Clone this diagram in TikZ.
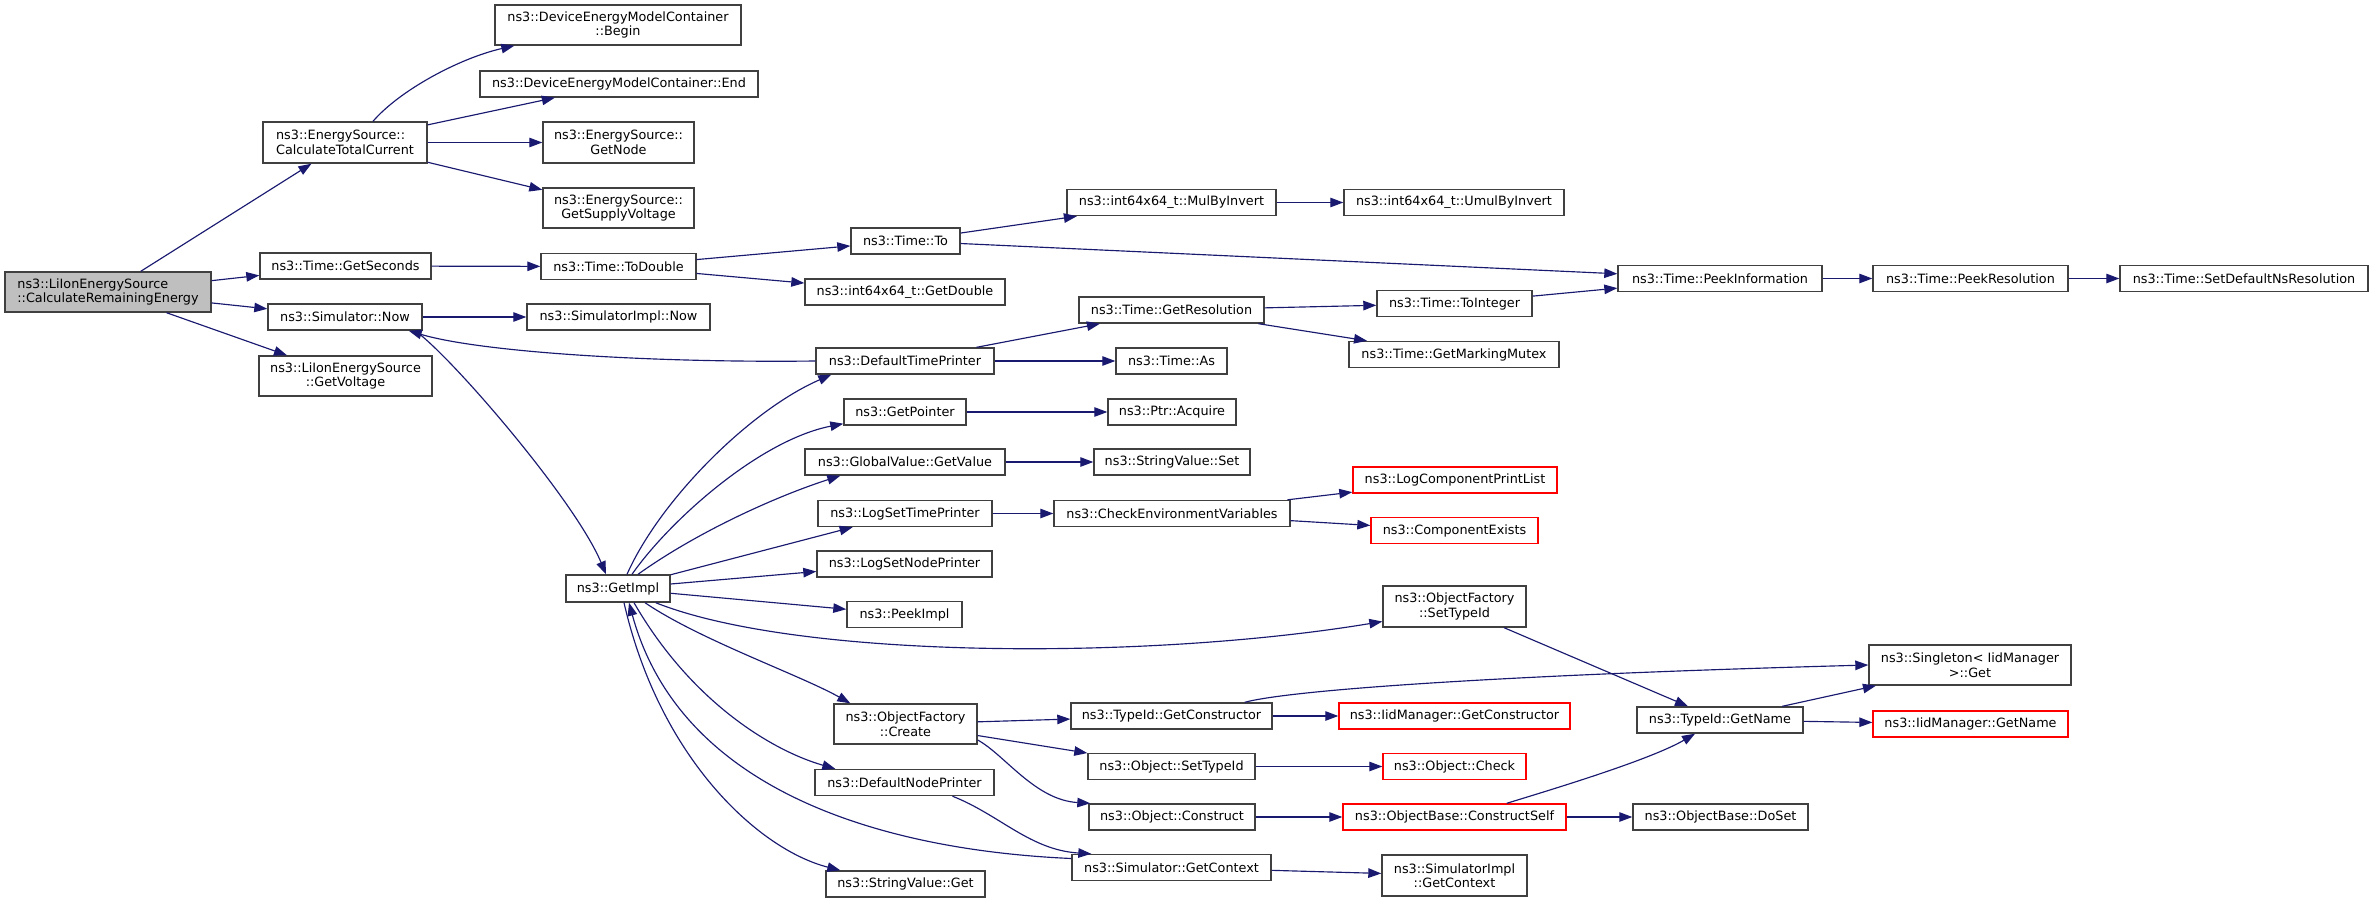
\documentclass[tikz,border=0pt]{standalone}
\usepackage{fontspec}
\setmainfont{DejaVu Sans}
\usetikzlibrary{arrows.meta,calc}
\definecolor{edgeblue}{HTML}{191970}
\definecolor{nodegrey}{HTML}{404040}
\definecolor{rootfill}{HTML}{BFBFBF}
\newcommand\dvfont{\fontsize{12.8bp}{14.5bp}\selectfont}
\tikzset{
  box/.style={draw=nodegrey, line width=1.4bp, fill=white, inner sep=0pt, font=\dvfont, align=center, text=black},
  redbox/.style={box, draw=red},
  bw/.style={minimum width=#1bp},
  bh/.style={minimum height=#1bp},
  e/.style={draw=edgeblue, line width=1.15bp, -{Triangle[length=13bp,width=9.5bp]}},
}
\begin{document}
\begin{tikzpicture}[x=1bp,y=-1bp]
\useasboundingbox (0,0) rectangle (2373,903);
% column 1
\node[box, fill=rootfill, align=left, bw=206, bh=40] (root) at (108,292) {ns3::LiIonEnergySource\\::CalculateRemainingEnergy};
% column 2
\node[box, align=left, bw=164, bh=41] (ctc) at (345,142.5) {ns3::EnergySource::\\CalculateTotalCurrent};
\node[box, bw=171, bh=26] (getsec) at (345.5,266) {ns3::Time::GetSeconds};
\node[box, bw=154, bh=26] (simnow) at (345,317) {ns3::Simulator::Now};
\node[box, bw=173, bh=40] (getvolt) at (345.5,376) {ns3::LiIonEnergySource\\::GetVoltage};
% column 3
\node[box, bw=246, bh=40] (begin) at (618,25) {ns3::DeviceEnergyModelContainer\\::Begin};
\node[box, bw=278, bh=26] (end) at (619,84) {ns3::DeviceEnergyModelContainer::End};
\node[box, bw=151, bh=41] (getnode) at (618.5,142.5) {ns3::EnergySource::\\GetNode};
\node[box, bw=151, bh=40] (supply) at (618.5,208) {ns3::EnergySource::\\GetSupplyVoltage};
\node[box, bw=155, bh=26] (todouble) at (618.5,266.5) {ns3::Time::ToDouble};
\node[box, bw=183, bh=26] (implnow) at (618.5,317) {ns3::SimulatorImpl::Now};
\node[box, bw=104, bh=27] (getimpl) at (618,588.5) {ns3::GetImpl};
% column 4
\node[box, bw=109, bh=26] (timeto) at (905.5,241) {ns3::Time::To};
\node[box, bw=200, bh=26] (getdouble) at (905,292) {ns3::int64x64\_t::GetDouble};
\node[box, bw=178, bh=26] (dtp) at (905,361) {ns3::DefaultTimePrinter};
\node[box, bw=122, bh=26] (getpointer) at (905,412) {ns3::GetPointer};
\node[box, bw=200, bh=26] (globalget) at (905,462) {ns3::GlobalValue::GetValue};
\node[box, bw=174, bh=26] (logstp) at (905,513.5) {ns3::LogSetTimePrinter};
\node[box, bw=175, bh=26] (logsnp) at (904.5,564) {ns3::LogSetNodePrinter};
\node[box, bw=115, bh=26] (peekimpl) at (904.5,614.5) {ns3::PeekImpl};
\node[box, bw=143, bh=40] (ofcreate) at (905.5,724) {ns3::ObjectFactory\\::Create};
\node[box, bw=179, bh=26] (dnp) at (904.5,782.5) {ns3::DefaultNodePrinter};
\node[box, bw=159, bh=26] (svget) at (905.5,884) {ns3::StringValue::Get};
% column 5
\node[box, bw=209, bh=26] (mulby) at (1171.5,202.5) {ns3::int64x64\_t::MulByInvert};
\node[box, bw=185, bh=26] (getres) at (1171.5,310) {ns3::Time::GetResolution};
\node[box, bw=111, bh=26] (timeas) at (1171.5,361) {ns3::Time::As};
\node[box, bw=128, bh=26] (acquire) at (1172,412) {ns3::Ptr::Acquire};
\node[box, bw=156, bh=26] (svset) at (1172,462) {ns3::StringValue::Set};
\node[box, bw=236, bh=26] (checkenv) at (1172,513.5) {ns3::CheckEnvironmentVariables};
\node[box, bw=201, bh=26] (tgetctor) at (1171.5,716) {ns3::TypeId::GetConstructor};
\node[box, bw=167, bh=26] (objsettype) at (1171.5,766.5) {ns3::Object::SetTypeId};
\node[box, bw=166, bh=26] (objconstruct) at (1172,817) {ns3::Object::Construct};
\node[box, bw=199, bh=26] (simgetctx) at (1171.5,867.5) {ns3::Simulator::GetContext};
% column 6
\node[box, bw=220, bh=26] (umulby) at (1454,202.5) {ns3::int64x64\_t::UmulByInvert};
\node[box, bw=155, bh=26] (tointeger) at (1454.5,303.5) {ns3::Time::ToInteger};
\node[box, bw=210, bh=26] (marking) at (1454,354.5) {ns3::Time::GetMarkingMutex};
\node[redbox, bw=204, bh=26] (logcpl) at (1455,480) {ns3::LogComponentPrintList};
\node[redbox, bw=167, bh=26] (compexists) at (1454.5,530.5) {ns3::ComponentExists};
\node[box, bw=143, bh=41] (ofsettype) at (1454.5,606.5) {ns3::ObjectFactory\\::SetTypeId};
\node[redbox, bw=231, bh=26] (iidgetctor) at (1454.5,716) {ns3::IidManager::GetConstructor};
\node[redbox, bw=143, bh=26] (objcheck) at (1454.5,766.5) {ns3::Object::Check};
\node[redbox, bw=223, bh=26] (constructself) at (1454.5,817) {ns3::ObjectBase::ConstructSelf};
\node[box, bw=145, bh=41] (implgetctx) at (1454.5,875.5) {ns3::SimulatorImpl\\::GetContext};
% column 7
\node[box, bw=204, bh=26] (peekinfo) at (1720,278.5) {ns3::Time::PeekInformation};
\node[box, bw=166, bh=26] (tgetname) at (1720,720) {ns3::TypeId::GetName};
\node[box, bw=175, bh=26] (doset) at (1720.5,817) {ns3::ObjectBase::DoSet};
% column 8
\node[box, bw=195, bh=26] (peekres) at (1970.5,278.5) {ns3::Time::PeekResolution};
\node[box, bw=202, bh=40] (singleton) at (1970,665) {ns3::Singleton< IidManager\\>::Get};
\node[redbox, bw=195, bh=26] (iidgetname) at (1970.5,724) {ns3::IidManager::GetName};
% column 9
\node[box, bw=248, bh=26] (setdefns) at (2244,278.5) {ns3::Time::SetDefaultNsResolution};

% edges
\draw[e] (root) -- (ctc);
\draw[e] (root) -- (getsec);
\draw[e] (root) -- (simnow);
\draw[e] (root) -- (getvolt);
\draw[e] ($(ctc.north)+(28,0)$) .. controls (400,90) and (460,58) .. ($(begin.south west)+(20,0)$);
\draw[e] (ctc) -- (end);
\draw[e] (ctc) -- (getnode);
\draw[e] (ctc) -- (supply);
\draw[e] (getsec) -- (todouble);
\draw[e] (todouble) -- (timeto);
\draw[e] (todouble) -- (getdouble);
\draw[e] (timeto) -- (mulby);
\draw[e] (timeto) -- (peekinfo);
\draw[e] (mulby) -- (umulby);
\draw[e] (simnow) -- (implnow);
\draw[e] ($(simnow.south)+(70,0)$) .. controls (450,355) and (575,500) .. ($(getimpl.north)+(-12,0)$);
\draw[e] (dtp.west) .. controls (650,363) and (480,352) .. ($(simnow.south east)+(-14,0)$);
\draw[e] ($(getimpl.north)+(9,0)$) .. controls (660,500) and (750,410) .. ($(dtp.south west)+(16,0)$);
\draw[e] ($(getimpl.north)+(14,0)$) .. controls (670,520) and (760,440) .. ($(getpointer.south west)+(0,-2)$);
\draw[e] ($(getimpl.north)+(20,0)$) .. controls (700,530) and (780,495) .. ($(globalget.south west)+(36,0)$);
\draw[e] (getimpl) -- (logstp);
\draw[e] (getimpl) -- (logsnp);
\draw[e] (getimpl) -- (peekimpl);
\draw[e] ($(getimpl.south east)+(-15,0)$) .. controls (800,660) and (1150,660) .. ($(ofsettype.west)+(0,15)$);
\draw[e] ($(getimpl.south)+(27,0)$) .. controls (700,640) and (800,675) .. ($(ofcreate.north west)+(17,0)$);
\draw[e] ($(getimpl.south)+(16,0)$) .. controls (690,700) and (770,750) .. ($(dnp.north west)+(21,0)$);
\draw[e] ($(getimpl.south)+(6,0)$) .. controls (660,760) and (760,850) .. ($(svget.north west)+(15,0)$);
\draw[e] ($(simgetctx.west)+(0,-9)$) .. controls (880,850) and (680,790) .. ($(getimpl.south)+(11,0)$);
\draw[e] (dtp) -- (getres);
\draw[e] (dtp) -- (timeas);
\draw[e] (getres) -- (tointeger);
\draw[e] (getres) -- (marking);
\draw[e] (tointeger) -- (peekinfo);
\draw[e] (peekinfo) -- (peekres);
\draw[e] (peekres) -- (setdefns);
\draw[e] (getpointer) -- (acquire);
\draw[e] (globalget) -- (svset);
\draw[e] (logstp) -- (checkenv);
\draw[e] (checkenv) -- (logcpl);
\draw[e] (checkenv) -- (compexists);
\draw[e] (ofsettype) -- (tgetname);
\draw[e] (ofcreate) -- (tgetctor);
\draw[e] (ofcreate) -- (objsettype);
\draw[e] ($(ofcreate.east)+(0,16)$) .. controls (1005,755) and (1035,800) .. ($(objconstruct.north west)+(2,0)$);
\draw[e] (tgetctor) -- (iidgetctor);
\draw[e] ($(tgetctor.north east)+(-28,0)$) .. controls (1290,690) and (1500,675) .. (singleton.west);
\draw[e] (objsettype) -- (objcheck);
\draw[e] ($(dnp.south)+(48,0)$) .. controls (1000,815) and (1030,850) .. ($(simgetctx.north west)+(20,0)$);
\draw[e] (objconstruct) -- (constructself);
\draw[e] ($(constructself.north east)+(-60,0)$) .. controls (1550,790) and (1650,760) .. ($(tgetname.south)+(-25,0)$);
\draw[e] (constructself) -- (doset);
\draw[e] (tgetname) -- (singleton);
\draw[e] (tgetname) -- (iidgetname);
\draw[e] (simgetctx) -- (implgetctx);
\end{tikzpicture}
\end{document}
